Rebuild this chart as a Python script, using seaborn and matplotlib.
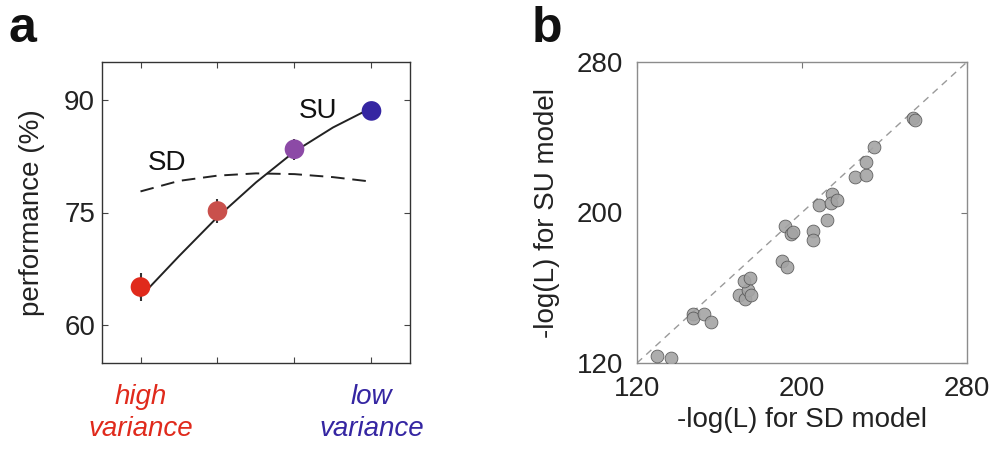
import numpy as np
import pandas as pd
import matplotlib
matplotlib.use("Agg")
import matplotlib.pyplot as plt
import seaborn as sns

sns.set_theme(style="white")
plt.rcParams["font.family"] = ["Liberation Sans", "DejaVu Sans"]

# ---- panel a: performance by stimulus variance ----
conditions = [1, 2, 3, 4]
performance = [65.1, 75.2, 83.4, 88.5]
perf_err = [1.8, 1.6, 1.4, 1.2]
cond_colors = ["#e02a1c", "#c9504c", "#8c4aa6", "#3526a2"]

model_x = [1.0, 1.5, 2.0, 2.5, 3.0, 3.5, 4.0]
su_model = [63.8, 69.2, 74.4, 79.0, 83.1, 86.3, 88.9]
sd_model = [77.8, 79.2, 79.9, 80.2, 80.1, 79.7, 79.1]

perf_ticks = [60, 75, 90]

# ---- panel b: per-subject negative log-likelihoods ----
nll_sd = [129.7, 136.4, 147.2, 147.2, 152.4, 156.0, 169.4, 172.6, 173.6, 175.2,
          172.1, 174.6, 190.1, 192.9, 191.9, 194.8, 195.8, 205.5, 205.3, 208.4,
          212.3, 214.4, 214.1, 217.0, 225.7, 230.9, 231.1, 235.0, 253.9, 254.9]
nll_su = [123.9, 122.7, 146.0, 143.7, 146.0, 141.8, 156.3, 154.2, 159.0, 156.3,
          163.8, 165.0, 174.2, 171.2, 193.0, 188.6, 189.6, 190.3, 185.2, 204.0,
          196.2, 209.8, 205.0, 206.5, 218.9, 220.1, 226.7, 234.6, 250.2, 249.1]
nll_ticks = [120, 200, 280]

FS = 20
W, H = 993, 450
fig = plt.figure(figsize=(W / 100, H / 100), dpi=100)
ax_a = fig.add_axes([102 / W, 1 - 363 / H, 308 / W, 301 / H])
ax_b = fig.add_axes([637 / W, 1 - 363 / H, 330 / W, 301 / H])

# panel a
sns.lineplot(x=model_x, y=sd_model, ax=ax_a, color="#222222", lw=1.4,
             linestyle=(0, (7, 4)))
sns.lineplot(x=model_x, y=su_model, ax=ax_a, color="#222222", lw=1.4)
for xc, yc, ec in zip(conditions, performance, perf_err):
    ax_a.errorbar(xc, yc, yerr=ec, fmt="none", ecolor="#333333", elinewidth=1.5,
                  capsize=0, zorder=3)
df_a = pd.DataFrame({"cond": conditions, "perf": performance,
                     "c": [str(c) for c in conditions]})
sns.scatterplot(data=df_a, x="cond", y="perf", hue="c",
                palette=dict(zip(df_a["c"], cond_colors)), s=200,
                edgecolor="none", legend=False, ax=ax_a, zorder=4)
ax_a.text(1.09, 80.6, "SD", fontsize=FS, color="#111111")
ax_a.text(3.05, 87.5, "SU", fontsize=FS, color="#111111")

ax_a.set_xlim(0.5, 4.5)
ax_a.set_ylim(55, 95)
ax_a.set_yticks(perf_ticks)
ax_a.set_yticklabels([str(t) for t in perf_ticks], fontsize=FS, color="#222222")
ax_a.set_xticks(conditions)
ax_a.set_xticklabels(["high\nvariance", "", "", "low\nvariance"],
                     fontsize=FS, style="italic", linespacing=1.3)
for lbl, col in zip(ax_a.get_xticklabels(), cond_colors):
    lbl.set_color(col)
ax_a.tick_params(direction="in", length=4, width=0.8, color="#444444",
                 top=True, right=True, bottom=True, left=True, pad=5)
ax_a.tick_params(axis="x", pad=15)
ax_a.set_xlabel("")
ax_a.set_ylabel("performance (%)", fontsize=FS, color="#222222", labelpad=14)
for sp in ax_a.spines.values():
    sp.set_visible(True)
    sp.set_color("#333333")
    sp.set_linewidth(1.0)

# panel b
sns.lineplot(x=[120, 280], y=[120, 280], ax=ax_b, color="#9a9a9a", lw=1.0,
             linestyle=(0, (5, 4)))
sns.scatterplot(x=nll_sd, y=nll_su, ax=ax_b, s=85, color="#a4a4a4",
                edgecolor="#555555", linewidth=0.6, alpha=0.9, zorder=3)
ax_b.set_xlim(120, 280)
ax_b.set_ylim(120, 280)
ax_b.set_xticks(nll_ticks)
ax_b.set_yticks(nll_ticks)
ax_b.set_xticklabels([str(t) for t in nll_ticks], fontsize=FS, color="#222222")
ax_b.set_yticklabels([str(t) for t in nll_ticks], fontsize=FS, color="#222222")
ax_b.tick_params(direction="in", length=4, width=0.8, color="#777777",
                 top=True, right=True, bottom=False, left=False,
                 labelleft=True, labelbottom=True)
ax_b.tick_params(axis="x", pad=9)
ax_b.tick_params(axis="y", pad=10)
ax_b.set_xlabel("-log(L) for SD model", fontsize=FS, color="#222222", labelpad=4)
ax_b.set_ylabel("-log(L) for SU model", fontsize=FS, color="#222222", labelpad=12)
for sp in ax_b.spines.values():
    sp.set_visible(True)
    sp.set_color("#8c8c8c")
    sp.set_linewidth(1.0)

fig.text(8 / W, 1 - 42 / H, "a", fontsize=36, fontweight="bold", color="#111111")
fig.text(532 / W, 1 - 42 / H, "b", fontsize=36, fontweight="bold", color="#111111")

fig.savefig("out.png", dpi=100, facecolor="white")
